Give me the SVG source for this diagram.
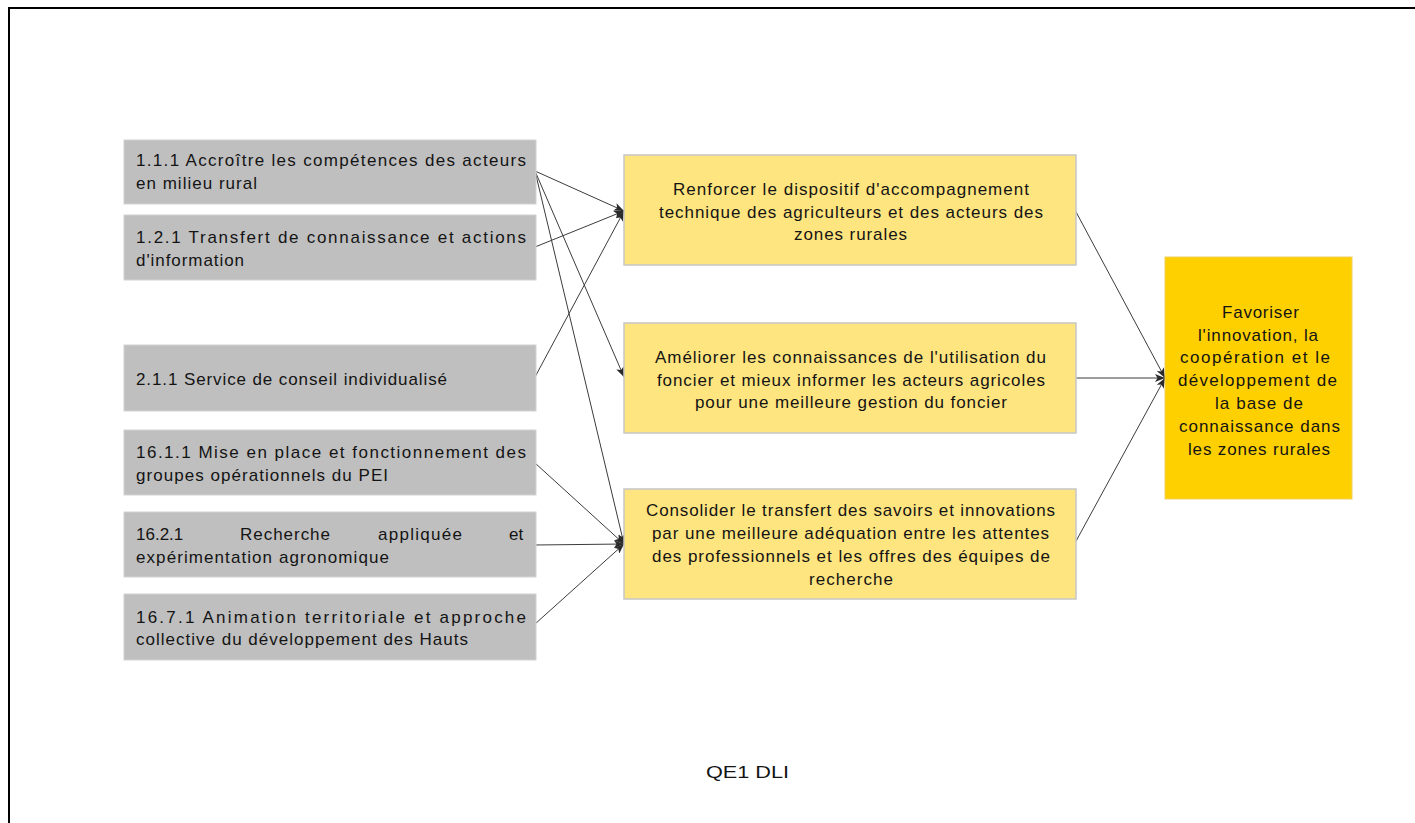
<svg xmlns="http://www.w3.org/2000/svg" width="1415" height="823" viewBox="0 0 1415 823">
<defs>
<style>
text{font-family:"Liberation Sans",Arial,sans-serif;font-size:17px;fill:#141414}
.cap{font-size:16px}
.src{fill:#bfbfbf;stroke:#d2d2d2;stroke-width:1}
.mid{fill:#ffe57f;stroke:#c6c6c6;stroke-width:1.5}
.goal{fill:#ffd000;stroke:#f0d060;stroke-width:1}
.con{fill:none;stroke:#3c3c3c;stroke-width:1;marker-end:url(#arr)}
</style>
<marker id="arr" viewBox="0 0 10 8" refX="10" refY="4" markerWidth="10" markerHeight="8" markerUnits="userSpaceOnUse" orient="auto">
<path d="M0,0 L10,4 L0,8 L2.5,4 Z" fill="#2a2a2a"/>
</marker>
</defs>
<rect width="1415" height="823" fill="#ffffff"/>
<rect x="9" y="8" width="1430" height="840" fill="none" stroke="#000000" stroke-width="2"/>

<g id="connectors">
<line class="con" x1="535" y1="171" x2="624" y2="211"/>
<line class="con" x1="535" y1="171" x2="624" y2="377"/>
<line class="con" x1="535" y1="171" x2="624" y2="544"/>
<line class="con" x1="535" y1="247" x2="624" y2="211"/>
<line class="con" x1="535" y1="377" x2="624" y2="211"/>
<line class="con" x1="535" y1="463" x2="624" y2="544"/>
<line class="con" x1="535" y1="545" x2="624" y2="544"/>
<line class="con" x1="535" y1="624" x2="624" y2="544"/>
<line class="con" x1="1075" y1="210" x2="1165" y2="378"/>
<line class="con" x1="1075" y1="378" x2="1165" y2="378"/>
<line class="con" x1="1075" y1="543" x2="1165" y2="378"/>
</g>

<g id="n111">
<rect class="src" x="124" y="140" width="412" height="64"/>
<text x="136" y="166" textLength="390" lengthAdjust="spacing">1.1.1 Accroître les compétences des acteurs</text>
<text x="136" y="189" textLength="121" lengthAdjust="spacing">en milieu rural</text>
</g>
<g id="n121">
<rect class="src" x="124" y="215" width="412" height="65"/>
<text x="136" y="243" textLength="390" lengthAdjust="spacing">1.2.1 Transfert de connaissance et actions</text>
<text x="136" y="266" textLength="108" lengthAdjust="spacing">d'information</text>
</g>
<g id="n211">
<rect class="src" x="124" y="345" width="412" height="66"/>
<text x="136" y="385" textLength="311" lengthAdjust="spacing">2.1.1 Service de conseil individualisé</text>
</g>
<g id="n1611">
<rect class="src" x="124" y="430" width="412" height="65"/>
<text x="136" y="458" textLength="390" lengthAdjust="spacing">16.1.1 Mise en place et fonctionnement des</text>
<text x="136" y="481" textLength="252" lengthAdjust="spacing">groupes opérationnels du PEI</text>
</g>
<g id="n1621">
<rect class="src" x="124" y="512" width="412" height="65"/>
<text x="136" y="540">16.2.1</text>
<text x="240" y="540" textLength="90" lengthAdjust="spacing">Recherche</text>
<text x="378" y="540" textLength="84" lengthAdjust="spacing">appliquée</text>
<text x="509" y="540">et</text>
<text x="136" y="563" textLength="253" lengthAdjust="spacing">expérimentation agronomique</text>
</g>
<g id="n1671">
<rect class="src" x="124" y="594" width="412" height="66"/>
<text x="136" y="623" textLength="390" lengthAdjust="spacing">16.7.1 Animation territoriale et approche</text>
<text x="136" y="645" textLength="332" lengthAdjust="spacing">collective du développement des Hauts</text>
</g>

<g id="renforcer">
<rect class="mid" x="624" y="155" width="452" height="110"/>
<text x="673" y="195" textLength="356" lengthAdjust="spacing">Renforcer le dispositif d'accompagnement</text>
<text x="659" y="218" textLength="384" lengthAdjust="spacing">technique des agriculteurs et des acteurs des</text>
<text x="794" y="240" textLength="113" lengthAdjust="spacing">zones rurales</text>
</g>
<g id="ameliorer">
<rect class="mid" x="624" y="323" width="452" height="110"/>
<text x="655" y="363" textLength="391" lengthAdjust="spacing">Améliorer les connaissances de l'utilisation du</text>
<text x="657" y="386" textLength="388" lengthAdjust="spacing">foncier et mieux informer les acteurs agricoles</text>
<text x="695" y="408" textLength="312" lengthAdjust="spacing">pour une meilleure gestion du foncier</text>
</g>
<g id="consolider">
<rect class="mid" x="624" y="489" width="452" height="110"/>
<text x="646" y="516" textLength="409" lengthAdjust="spacing">Consolider le transfert des savoirs et innovations</text>
<text x="652" y="539" textLength="397" lengthAdjust="spacing">par une meilleure adéquation entre les attentes</text>
<text x="652" y="562" textLength="398" lengthAdjust="spacing">des professionnels et les offres des équipes de</text>
<text x="809" y="585" textLength="84" lengthAdjust="spacing">recherche</text>
</g>

<g id="favoriser">
<rect class="goal" x="1165" y="257" width="187" height="242"/>
<text x="1222" y="318" textLength="77" lengthAdjust="spacing">Favoriser</text>
<text x="1198" y="341" textLength="120" lengthAdjust="spacing">l'innovation, la</text>
<text x="1180" y="363" textLength="150" lengthAdjust="spacing">coopération et le</text>
<text x="1178" y="386" textLength="159" lengthAdjust="spacing">développement de</text>
<text x="1215" y="409" textLength="88" lengthAdjust="spacing">la base de</text>
<text x="1179" y="432" textLength="161" lengthAdjust="spacing">connaissance dans</text>
<text x="1188" y="455" textLength="142" lengthAdjust="spacing">les zones rurales</text>
</g>

<g id="caption">
<text class="cap" x="706" y="778" textLength="83" lengthAdjust="spacingAndGlyphs">QE1 DLI</text>
</g>
</svg>
